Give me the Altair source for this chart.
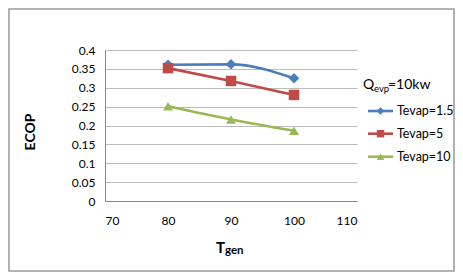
import altair as alt
import pandas as pd

tgen = [80, 90, 100]
series_names = ["Tevap=1.5", "Tevap=5", "Tevap=10"]
ecop_15 = [0.361, 0.362, 0.325]
ecop_5 = [0.352, 0.318, 0.281]
ecop_10 = [0.251, 0.216, 0.186]
colors = ["#4A7EBB", "#BE4B48", "#98B954"]
shapes = ["diamond", "square", "triangle-up"]
x_ticks = [70, 80, 90, 100, 110]
y_ticks = [0, 0.05, 0.1, 0.15, 0.2, 0.25, 0.3, 0.35, 0.4]

FONT = "Lato"
W, H = 252, 151
PL, PT = 97, 42
TOTW, TOTH = 447, 264

rows = []
for name, vals in zip(series_names, [ecop_15, ecop_5, ecop_10]):
    for t, v in zip(tgen, vals):
        rows.append({"Tgen": t, "ECOP": v, "series": name})
df = pd.DataFrame(rows)

xs = alt.Scale(domain=[70, 110], nice=False)
ys = alt.Scale(domain=[0, 0.4], nice=False)

layers = []
for i, name in enumerate(series_names):
    d = df[df.series == name]
    base = alt.Chart(d).encode(
        x=alt.X("Tgen:Q", scale=xs,
                axis=alt.Axis(values=x_ticks, grid=False, ticks=False, domainColor="#888888",
                              labelFont=FONT, labelFontSize=12, labelColor="#000000",
                              labelPadding=14, title=None, format="d")),
        y=alt.Y("ECOP:Q", scale=ys,
                axis=alt.Axis(values=y_ticks, grid=True, gridColor="#BBBBBB", ticks=False,
                              domainColor="#888888", labelFont=FONT, labelFontSize=12,
                              labelColor="#000000", labelPadding=10, title=None,
                              format=".2~f")),
    )
    line = base.mark_line(color=colors[i], strokeWidth=2.6, interpolate="monotone")
    pts = base.mark_point(shape=shapes[i], filled=True, color=colors[i], opacity=1,
                          size=110 if i != 2 else 100)
    layers += [line, pts]

# legend
leg_df = pd.DataFrame({"series": series_names, "idx": [0, 1, 2]})
leg_y = [61, 83.7, 106.7]
for i, name in enumerate(series_names):
    d = leg_df[leg_df.series == name]
    layers.append(alt.Chart(d).mark_rule(color=colors[i], strokeWidth=2.6).encode(
        x=alt.value(263), x2=alt.value(288), y=alt.value(leg_y[i])))
    layers.append(alt.Chart(d).mark_point(shape=shapes[i], filled=True, color=colors[i],
                                          opacity=1, size=55).encode(
        x=alt.value(275.5), y=alt.value(leg_y[i])))
    layers.append(alt.Chart(d).mark_text(align="left", baseline="middle", font=FONT,
                                         fontSize=12.5, color="#000000").encode(
        x=alt.value(292), y=alt.value(leg_y[i]), text="series:N"))

layers.append(alt.Chart(pd.DataFrame({"t": ["Q"]})).mark_text(
    align="left", baseline="alphabetic", font=FONT, fontSize=14, color="#000000").encode(
    x=alt.value(258), y=alt.value(39), text="t:N"))
layers.append(alt.Chart(pd.DataFrame({"t": ["evp"]})).mark_text(
    align="left", baseline="alphabetic", font=FONT, fontSize=9.5, color="#000000").encode(
    x=alt.value(269), y=alt.value(42), text="t:N"))
layers.append(alt.Chart(pd.DataFrame({"t": ["=10kw"]})).mark_text(
    align="left", baseline="alphabetic", font=FONT, fontSize=14, color="#000000").encode(
    x=alt.value(283), y=alt.value(39), text="t:N"))

# axis titles
layers.append(alt.Chart(pd.DataFrame({"t": ["ECOP"]})).mark_text(
    align="center", baseline="middle", font=FONT, fontSize=14, fontWeight="bold",
    angle=270, color="#000000").encode(x=alt.value(-74), y=alt.value(82), text="t:N"))
layers.append(alt.Chart(pd.DataFrame({"t": ["T"]})).mark_text(
    align="left", baseline="alphabetic", font=FONT, fontSize=15, fontWeight="bold",
    color="#000000").encode(x=alt.value(111), y=alt.value(203), text="t:N"))
layers.append(alt.Chart(pd.DataFrame({"t": ["gen"]})).mark_text(
    align="left", baseline="alphabetic", font=FONT, fontSize=11.5, fontWeight="bold",
    color="#000000").encode(x=alt.value(120), y=alt.value(204), text="t:N"))

# outer border
layers.append(alt.Chart(pd.DataFrame({"a": [1]})).mark_rect(
    fill=None, stroke="#999999", strokeWidth=1.5).encode(
    x=alt.value(-96), x2=alt.value(TOTW - PL - 1),
    y=alt.value(-41), y2=alt.value(TOTH - PT - 1)))

chart = alt.layer(*layers).properties(
    width=W, height=H,
    autosize=alt.AutoSizeParams(type="none"),
    padding={"left": PL, "top": PT, "right": TOTW - PL - W, "bottom": TOTH - PT - H},
    background="white",
).configure_view(stroke=None)

chart.save("out.html", embed_options={"renderer": "svg", "actions": False})
